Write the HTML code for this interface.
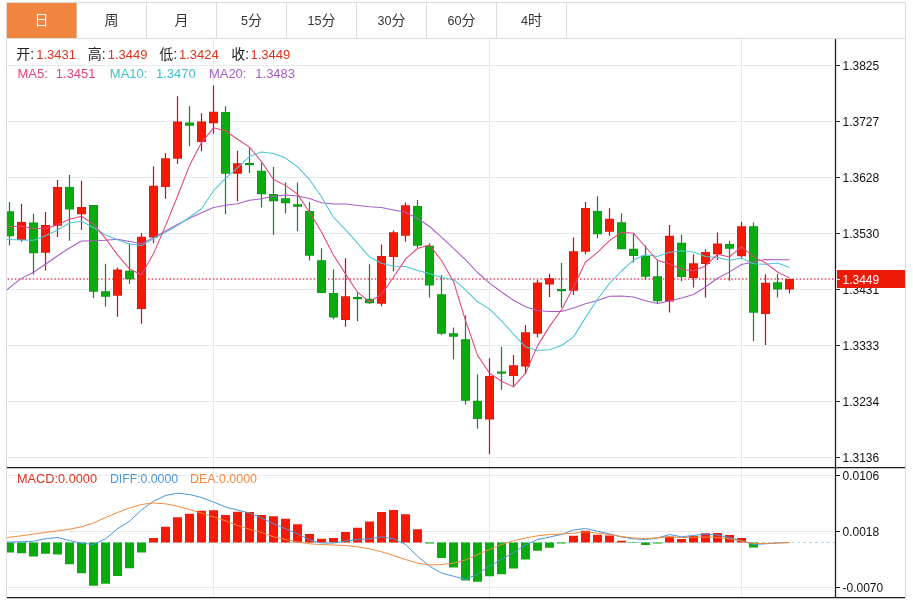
<!DOCTYPE html>
<html lang="zh"><head><meta charset="utf-8"><title>K线图</title>
<style>html,body{margin:0;padding:0;background:#fff}svg{display:block}text{font-family:"Liberation Sans","Noto Sans CJK SC",sans-serif}</style></head><body>
<svg width="913" height="600" viewBox="0 0 913 600">
<rect width="913" height="600" fill="#fff"/>
<g stroke="#dcdcdc" stroke-width="1" fill="none" shape-rendering="crispEdges">
<path d="M6.5 2.5H905.5V598"/>
<path d="M6.5 2.5V598"/>
<path d="M7 38.5H905"/>
<path d="M76.5 3V38"/>
<path d="M146.5 3V38"/>
<path d="M216.5 3V38"/>
<path d="M286.5 3V38"/>
<path d="M356.5 3V38"/>
<path d="M426.5 3V38"/>
<path d="M496.5 3V38"/>
<path d="M566.5 3V38"/>
</g>
<rect x="7" y="3" width="69.5" height="35" fill="#f0853f"/>
<text x="41.5" y="25" font-size="14" text-anchor="middle" fill="#fff"><tspan font-size="14">日</tspan></text>
<text x="111.5" y="25" font-size="14" text-anchor="middle" fill="#333"><tspan font-size="14">周</tspan></text>
<text x="181.5" y="25" font-size="14" text-anchor="middle" fill="#333"><tspan font-size="14">月</tspan></text>
<text x="251.5" y="25" font-size="14" text-anchor="middle" fill="#333"><tspan font-size="12.6">5</tspan><tspan font-size="14">分</tspan></text>
<text x="321.5" y="25" font-size="14" text-anchor="middle" fill="#333"><tspan font-size="12.6">15</tspan><tspan font-size="14">分</tspan></text>
<text x="391.5" y="25" font-size="14" text-anchor="middle" fill="#333"><tspan font-size="12.6">30</tspan><tspan font-size="14">分</tspan></text>
<text x="461.5" y="25" font-size="14" text-anchor="middle" fill="#333"><tspan font-size="12.6">60</tspan><tspan font-size="14">分</tspan></text>
<text x="531.5" y="25" font-size="14" text-anchor="middle" fill="#333"><tspan font-size="12.6">4</tspan><tspan font-size="14">时</tspan></text>
<g stroke="#e8e9ee" stroke-width="1" shape-rendering="crispEdges">
<path d="M7 65.5H835"/>
<path d="M7 121.5H835"/>
<path d="M7 177.5H835"/>
<path d="M7 233.5H835"/>
<path d="M7 289.5H835"/>
<path d="M7 345.5H835"/>
<path d="M7 401.5H835"/>
<path d="M7 457.5H835"/>
<path d="M7 475.5H835"/>
<path d="M7 531.5H835"/>
<path d="M7 587.5H835"/>
<path d="M213.5 39V597"/>
<path d="M489.5 39V597"/>
<path d="M741.5 39V597"/>
</g>
<path d="M7 542.5H835"  stroke="#a4d2ee" stroke-width="1.2" stroke-dasharray="2.5 3.4" fill="none"/>
<defs><clipPath id="cp"><rect x="7" y="39" width="828" height="558"/></clipPath></defs>
<g clip-path="url(#cp)">
<path d="M7.6 279H835" stroke="#ec4560" stroke-width="1.6" stroke-dasharray="1.5 2.1" fill="none"/>
<path d="M9.5 202.00V245.50" stroke="#1a8530" stroke-width="1.25"/>
<rect x="5.0" y="211.25" width="9" height="25.00" fill="#0c9a18"/>
<rect x="5.8" y="212.05" width="7.4" height="23.40" fill="#0aab0e"/>
<path d="M21.5 203.75V241.75" stroke="#bc1420" stroke-width="1.25"/>
<rect x="17.0" y="222.00" width="9" height="18.00" fill="#de1a0c"/>
<rect x="17.8" y="222.80" width="7.4" height="16.40" fill="#f41a08"/>
<path d="M33.5 213.75V274.50" stroke="#1a8530" stroke-width="1.25"/>
<rect x="29.0" y="222.50" width="9" height="30.75" fill="#0c9a18"/>
<rect x="29.8" y="223.30" width="7.4" height="29.15" fill="#0aab0e"/>
<path d="M45.5 212.00V270.50" stroke="#bc1420" stroke-width="1.25"/>
<rect x="41.0" y="225.00" width="9" height="27.75" fill="#de1a0c"/>
<rect x="41.8" y="225.80" width="7.4" height="26.15" fill="#f41a08"/>
<path d="M57.5 180.00V237.00" stroke="#bc1420" stroke-width="1.25"/>
<rect x="53.0" y="187.00" width="9" height="38.75" fill="#de1a0c"/>
<rect x="53.8" y="187.80" width="7.4" height="37.15" fill="#f41a08"/>
<path d="M69.5 175.00V240.75" stroke="#1a8530" stroke-width="1.25"/>
<rect x="65.0" y="187.00" width="9" height="22.50" fill="#0c9a18"/>
<rect x="65.8" y="187.80" width="7.4" height="20.90" fill="#0aab0e"/>
<path d="M81.5 180.75V230.00" stroke="#bc1420" stroke-width="1.25"/>
<rect x="77.0" y="207.00" width="9" height="7.25" fill="#de1a0c"/>
<rect x="77.8" y="207.80" width="7.4" height="5.65" fill="#f41a08"/>
<path d="M93.5 205.00V298.00" stroke="#1a8530" stroke-width="1.25"/>
<rect x="89.0" y="205.00" width="9" height="86.75" fill="#0c9a18"/>
<rect x="89.8" y="205.80" width="7.4" height="85.15" fill="#0aab0e"/>
<path d="M105.5 263.75V306.75" stroke="#1a8530" stroke-width="1.25"/>
<rect x="101.0" y="291.25" width="9" height="5.50" fill="#0c9a18"/>
<rect x="101.8" y="292.05" width="7.4" height="3.90" fill="#0aab0e"/>
<path d="M117.5 267.50V316.75" stroke="#bc1420" stroke-width="1.25"/>
<rect x="113.0" y="269.50" width="9" height="26.25" fill="#de1a0c"/>
<rect x="113.8" y="270.30" width="7.4" height="24.65" fill="#f41a08"/>
<path d="M129.5 243.75V283.75" stroke="#1a8530" stroke-width="1.25"/>
<rect x="125.0" y="270.75" width="9" height="8.50" fill="#0c9a18"/>
<rect x="125.8" y="271.55" width="7.4" height="6.90" fill="#0aab0e"/>
<path d="M141.5 233.00V323.75" stroke="#bc1420" stroke-width="1.25"/>
<rect x="137.0" y="236.75" width="9" height="72.25" fill="#de1a0c"/>
<rect x="137.8" y="237.55" width="7.4" height="70.65" fill="#f41a08"/>
<path d="M153.5 166.25V243.25" stroke="#bc1420" stroke-width="1.25"/>
<rect x="149.0" y="185.75" width="9" height="51.75" fill="#de1a0c"/>
<rect x="149.8" y="186.55" width="7.4" height="50.15" fill="#f41a08"/>
<path d="M165.5 153.00V198.75" stroke="#bc1420" stroke-width="1.25"/>
<rect x="161.0" y="158.25" width="9" height="28.75" fill="#de1a0c"/>
<rect x="161.8" y="159.05" width="7.4" height="27.15" fill="#f41a08"/>
<path d="M177.5 96.25V163.75" stroke="#bc1420" stroke-width="1.25"/>
<rect x="173.0" y="121.50" width="9" height="37.25" fill="#de1a0c"/>
<rect x="173.8" y="122.30" width="7.4" height="35.65" fill="#f41a08"/>
<path d="M189.5 106.25V146.25" stroke="#1a8530" stroke-width="1.25"/>
<rect x="185.0" y="122.50" width="9" height="3.25" fill="#0c9a18"/>
<rect x="185.8" y="123.30" width="7.4" height="1.65" fill="#0aab0e"/>
<path d="M201.5 113.25V151.25" stroke="#bc1420" stroke-width="1.25"/>
<rect x="197.0" y="121.50" width="9" height="20.50" fill="#de1a0c"/>
<rect x="197.8" y="122.30" width="7.4" height="18.90" fill="#f41a08"/>
<path d="M213.5 85.50V133.75" stroke="#bc1420" stroke-width="1.25"/>
<rect x="209.0" y="111.75" width="9" height="11.50" fill="#de1a0c"/>
<rect x="209.8" y="112.55" width="7.4" height="9.90" fill="#f41a08"/>
<path d="M225.5 106.25V214.25" stroke="#1a8530" stroke-width="1.25"/>
<rect x="221.0" y="112.00" width="9" height="61.75" fill="#0c9a18"/>
<rect x="221.8" y="112.80" width="7.4" height="60.15" fill="#0aab0e"/>
<path d="M237.5 150.75V201.25" stroke="#bc1420" stroke-width="1.25"/>
<rect x="233.0" y="163.25" width="9" height="10.50" fill="#de1a0c"/>
<rect x="233.8" y="164.05" width="7.4" height="8.90" fill="#f41a08"/>
<path d="M249.5 147.50V173.00" stroke="#1a8530" stroke-width="1.25"/>
<rect x="245.0" y="163.00" width="9" height="2.20" fill="#0c9a18"/>
<path d="M261.5 162.50V207.50" stroke="#1a8530" stroke-width="1.25"/>
<rect x="257.0" y="170.75" width="9" height="23.50" fill="#0c9a18"/>
<rect x="257.8" y="171.55" width="7.4" height="21.90" fill="#0aab0e"/>
<path d="M273.5 167.00V235.00" stroke="#1a8530" stroke-width="1.25"/>
<rect x="269.0" y="194.00" width="9" height="7.25" fill="#0c9a18"/>
<rect x="269.8" y="194.80" width="7.4" height="5.65" fill="#0aab0e"/>
<path d="M285.5 182.50V213.50" stroke="#1a8530" stroke-width="1.25"/>
<rect x="281.0" y="198.25" width="9" height="5.00" fill="#0c9a18"/>
<rect x="281.8" y="199.05" width="7.4" height="3.40" fill="#0aab0e"/>
<path d="M297.5 182.50V231.25" stroke="#1a8530" stroke-width="1.25"/>
<rect x="293.0" y="204.25" width="9" height="2.50" fill="#0c9a18"/>
<rect x="293.8" y="205.05" width="7.4" height="0.90" fill="#0aab0e"/>
<path d="M309.5 202.00V260.50" stroke="#1a8530" stroke-width="1.25"/>
<rect x="305.0" y="211.00" width="9" height="44.75" fill="#0c9a18"/>
<rect x="305.8" y="211.80" width="7.4" height="43.15" fill="#0aab0e"/>
<path d="M321.5 248.25V293.00" stroke="#1a8530" stroke-width="1.25"/>
<rect x="317.0" y="260.25" width="9" height="32.75" fill="#0c9a18"/>
<rect x="317.8" y="261.05" width="7.4" height="31.15" fill="#0aab0e"/>
<path d="M333.5 269.25V319.25" stroke="#1a8530" stroke-width="1.25"/>
<rect x="329.0" y="293.00" width="9" height="24.50" fill="#0c9a18"/>
<rect x="329.8" y="293.80" width="7.4" height="22.90" fill="#0aab0e"/>
<path d="M345.5 258.25V326.75" stroke="#bc1420" stroke-width="1.25"/>
<rect x="341.0" y="296.25" width="9" height="23.75" fill="#de1a0c"/>
<rect x="341.8" y="297.05" width="7.4" height="22.15" fill="#f41a08"/>
<path d="M357.5 292.00V321.25" stroke="#1a8530" stroke-width="1.25"/>
<rect x="353.0" y="297.00" width="9" height="2.20" fill="#0c9a18"/>
<path d="M369.5 264.25V304.00" stroke="#1a8530" stroke-width="1.25"/>
<rect x="365.0" y="298.75" width="9" height="4.50" fill="#0c9a18"/>
<rect x="365.8" y="299.55" width="7.4" height="2.90" fill="#0aab0e"/>
<path d="M381.5 244.50V306.25" stroke="#bc1420" stroke-width="1.25"/>
<rect x="377.0" y="256.00" width="9" height="47.75" fill="#de1a0c"/>
<rect x="377.8" y="256.80" width="7.4" height="46.15" fill="#f41a08"/>
<path d="M393.5 230.50V271.25" stroke="#bc1420" stroke-width="1.25"/>
<rect x="389.0" y="232.25" width="9" height="24.75" fill="#de1a0c"/>
<rect x="389.8" y="233.05" width="7.4" height="23.15" fill="#f41a08"/>
<path d="M405.5 202.50V241.75" stroke="#bc1420" stroke-width="1.25"/>
<rect x="401.0" y="205.25" width="9" height="30.50" fill="#de1a0c"/>
<rect x="401.8" y="206.05" width="7.4" height="28.90" fill="#f41a08"/>
<path d="M417.5 200.00V248.00" stroke="#1a8530" stroke-width="1.25"/>
<rect x="413.0" y="206.00" width="9" height="39.75" fill="#0c9a18"/>
<rect x="413.8" y="206.80" width="7.4" height="38.15" fill="#0aab0e"/>
<path d="M429.5 243.25V297.50" stroke="#1a8530" stroke-width="1.25"/>
<rect x="425.0" y="245.75" width="9" height="39.75" fill="#0c9a18"/>
<rect x="425.8" y="246.55" width="7.4" height="38.15" fill="#0aab0e"/>
<path d="M441.5 275.00V335.00" stroke="#1a8530" stroke-width="1.25"/>
<rect x="437.0" y="294.25" width="9" height="39.50" fill="#0c9a18"/>
<rect x="437.8" y="295.05" width="7.4" height="37.90" fill="#0aab0e"/>
<path d="M453.5 327.50V359.25" stroke="#1a8530" stroke-width="1.25"/>
<rect x="449.0" y="333.25" width="9" height="3.50" fill="#0c9a18"/>
<rect x="449.8" y="334.05" width="7.4" height="1.90" fill="#0aab0e"/>
<path d="M465.5 315.50V404.50" stroke="#1a8530" stroke-width="1.25"/>
<rect x="461.0" y="339.25" width="9" height="61.50" fill="#0c9a18"/>
<rect x="461.8" y="340.05" width="7.4" height="59.90" fill="#0aab0e"/>
<path d="M477.5 374.50V428.75" stroke="#1a8530" stroke-width="1.25"/>
<rect x="473.0" y="400.75" width="9" height="18.25" fill="#0c9a18"/>
<rect x="473.8" y="401.55" width="7.4" height="16.65" fill="#0aab0e"/>
<path d="M489.5 358.25V454.25" stroke="#bc1420" stroke-width="1.25"/>
<rect x="485.0" y="376.00" width="9" height="43.50" fill="#de1a0c"/>
<rect x="485.8" y="376.80" width="7.4" height="41.90" fill="#f41a08"/>
<path d="M501.5 346.75V390.00" stroke="#1a8530" stroke-width="1.25"/>
<rect x="497.0" y="371.50" width="9" height="2.20" fill="#0c9a18"/>
<path d="M513.5 355.00V386.25" stroke="#bc1420" stroke-width="1.25"/>
<rect x="509.0" y="365.25" width="9" height="10.75" fill="#de1a0c"/>
<rect x="509.8" y="366.05" width="7.4" height="9.15" fill="#f41a08"/>
<path d="M525.5 325.00V374.25" stroke="#bc1420" stroke-width="1.25"/>
<rect x="521.0" y="332.25" width="9" height="34.25" fill="#de1a0c"/>
<rect x="521.8" y="333.05" width="7.4" height="32.65" fill="#f41a08"/>
<path d="M537.5 280.00V337.50" stroke="#bc1420" stroke-width="1.25"/>
<rect x="533.0" y="282.50" width="9" height="51.25" fill="#de1a0c"/>
<rect x="533.8" y="283.30" width="7.4" height="49.65" fill="#f41a08"/>
<path d="M549.5 273.75V297.00" stroke="#bc1420" stroke-width="1.25"/>
<rect x="545.0" y="278.25" width="9" height="6.25" fill="#de1a0c"/>
<rect x="545.8" y="279.05" width="7.4" height="4.65" fill="#f41a08"/>
<path d="M561.5 263.00V307.50" stroke="#1a8530" stroke-width="1.25"/>
<rect x="557.0" y="289.00" width="9" height="2.20" fill="#0c9a18"/>
<path d="M573.5 237.50V295.00" stroke="#bc1420" stroke-width="1.25"/>
<rect x="569.0" y="251.25" width="9" height="39.50" fill="#de1a0c"/>
<rect x="569.8" y="252.05" width="7.4" height="37.90" fill="#f41a08"/>
<path d="M585.5 202.00V254.25" stroke="#bc1420" stroke-width="1.25"/>
<rect x="581.0" y="208.00" width="9" height="43.75" fill="#de1a0c"/>
<rect x="581.8" y="208.80" width="7.4" height="42.15" fill="#f41a08"/>
<path d="M597.5 196.25V238.25" stroke="#1a8530" stroke-width="1.25"/>
<rect x="593.0" y="211.00" width="9" height="23.25" fill="#0c9a18"/>
<rect x="593.8" y="211.80" width="7.4" height="21.65" fill="#0aab0e"/>
<path d="M609.5 208.25V235.75" stroke="#bc1420" stroke-width="1.25"/>
<rect x="605.0" y="218.75" width="9" height="13.00" fill="#de1a0c"/>
<rect x="605.8" y="219.55" width="7.4" height="11.40" fill="#f41a08"/>
<path d="M621.5 213.25V249.25" stroke="#1a8530" stroke-width="1.25"/>
<rect x="617.0" y="222.25" width="9" height="27.00" fill="#0c9a18"/>
<rect x="617.8" y="223.05" width="7.4" height="25.40" fill="#0aab0e"/>
<path d="M633.5 233.75V262.50" stroke="#1a8530" stroke-width="1.25"/>
<rect x="629.0" y="248.75" width="9" height="7.25" fill="#0c9a18"/>
<rect x="629.8" y="249.55" width="7.4" height="5.65" fill="#0aab0e"/>
<path d="M645.5 245.50V280.00" stroke="#1a8530" stroke-width="1.25"/>
<rect x="641.0" y="255.75" width="9" height="21.00" fill="#0c9a18"/>
<rect x="641.8" y="256.55" width="7.4" height="19.40" fill="#0aab0e"/>
<path d="M657.5 260.00V303.75" stroke="#1a8530" stroke-width="1.25"/>
<rect x="653.0" y="276.25" width="9" height="25.00" fill="#0c9a18"/>
<rect x="653.8" y="277.05" width="7.4" height="23.40" fill="#0aab0e"/>
<path d="M669.5 225.00V312.50" stroke="#bc1420" stroke-width="1.25"/>
<rect x="665.0" y="235.75" width="9" height="65.75" fill="#de1a0c"/>
<rect x="665.8" y="236.55" width="7.4" height="64.15" fill="#f41a08"/>
<path d="M681.5 234.50V281.25" stroke="#1a8530" stroke-width="1.25"/>
<rect x="677.0" y="242.75" width="9" height="34.25" fill="#0c9a18"/>
<rect x="677.8" y="243.55" width="7.4" height="32.65" fill="#0aab0e"/>
<path d="M693.5 254.25V287.50" stroke="#bc1420" stroke-width="1.25"/>
<rect x="689.0" y="263.25" width="9" height="14.75" fill="#de1a0c"/>
<rect x="689.8" y="264.05" width="7.4" height="13.15" fill="#f41a08"/>
<path d="M705.5 249.25V297.50" stroke="#bc1420" stroke-width="1.25"/>
<rect x="701.0" y="252.00" width="9" height="12.00" fill="#de1a0c"/>
<rect x="701.8" y="252.80" width="7.4" height="10.40" fill="#f41a08"/>
<path d="M717.5 232.50V260.00" stroke="#bc1420" stroke-width="1.25"/>
<rect x="713.0" y="243.50" width="9" height="10.75" fill="#de1a0c"/>
<rect x="713.8" y="244.30" width="7.4" height="9.15" fill="#f41a08"/>
<path d="M729.5 240.75V280.75" stroke="#1a8530" stroke-width="1.25"/>
<rect x="725.0" y="244.00" width="9" height="4.75" fill="#0c9a18"/>
<rect x="725.8" y="244.80" width="7.4" height="3.15" fill="#0aab0e"/>
<path d="M741.5 221.75V258.25" stroke="#bc1420" stroke-width="1.25"/>
<rect x="737.0" y="226.25" width="9" height="30.00" fill="#de1a0c"/>
<rect x="737.8" y="227.05" width="7.4" height="28.40" fill="#f41a08"/>
<path d="M753.5 222.50V341.25" stroke="#1a8530" stroke-width="1.25"/>
<rect x="749.0" y="226.25" width="9" height="86.50" fill="#0c9a18"/>
<rect x="749.8" y="227.05" width="7.4" height="84.90" fill="#0aab0e"/>
<path d="M765.5 274.25V345.00" stroke="#bc1420" stroke-width="1.25"/>
<rect x="761.0" y="282.75" width="9" height="31.25" fill="#de1a0c"/>
<rect x="761.8" y="283.55" width="7.4" height="29.65" fill="#f41a08"/>
<path d="M777.5 273.75V297.50" stroke="#1a8530" stroke-width="1.25"/>
<rect x="773.0" y="282.25" width="9" height="7.25" fill="#0c9a18"/>
<rect x="773.8" y="283.05" width="7.4" height="5.65" fill="#0aab0e"/>
<path d="M789.5 279.00V293.50" stroke="#bc1420" stroke-width="1.25"/>
<rect x="785.0" y="279.00" width="9" height="10.50" fill="#de1a0c"/>
<rect x="785.8" y="279.80" width="7.4" height="8.90" fill="#f41a08"/>
<polyline points="7.0,290.0 9.5,287.6 21.5,278.4 33.5,272.3 45.5,264.2 57.5,255.8 69.5,248.0 81.5,241.0 93.5,240.7 105.5,240.3 117.5,239.3 129.5,241.6 141.5,243.8 153.5,237.6 165.5,231.0 177.5,224.5 189.5,218.3 201.5,212.7 213.5,207.5 225.5,205.2 237.5,203.8 249.5,200.2 261.5,198.8 273.5,196.2 285.5,195.1 297.5,196.1 309.5,198.4 321.5,202.7 333.5,204.0 345.5,204.0 357.5,205.5 369.5,206.7 381.5,207.6 393.5,209.9 405.5,212.3 417.5,218.5 429.5,226.5 441.5,237.1 453.5,248.4 465.5,259.7 477.5,272.5 489.5,283.1 501.5,292.0 513.5,300.2 525.5,306.7 537.5,310.4 549.5,311.6 561.5,311.4 573.5,308.1 585.5,303.7 597.5,300.5 609.5,296.3 621.5,295.9 633.5,297.1 645.5,300.7 657.5,303.5 669.5,301.0 681.5,298.1 693.5,294.5 705.5,287.0 717.5,278.3 729.5,271.9 741.5,264.5 753.5,261.9 765.5,259.4 777.5,259.8 789.5,259.8" fill="none" stroke="#a85cc8" stroke-width="1.05" stroke-linejoin="round"/>
<polyline points="7.0,239.5 9.5,239.5 21.5,240.0 33.5,240.3 45.5,235.8 57.5,230.0 69.5,223.0 81.5,221.3 93.5,227.5 105.5,235.0 117.5,239.8 129.5,244.1 141.5,245.6 153.5,238.8 165.5,232.2 177.5,225.6 189.5,217.2 201.5,208.7 213.5,190.7 225.5,178.4 237.5,167.8 249.5,156.3 261.5,152.1 273.5,153.6 285.5,158.1 297.5,166.7 309.5,179.7 321.5,196.8 333.5,217.4 345.5,229.6 357.5,243.2 369.5,257.0 381.5,263.2 393.5,266.3 405.5,266.5 417.5,270.4 429.5,273.4 441.5,277.4 453.5,279.4 465.5,289.8 477.5,301.8 489.5,309.1 501.5,320.9 513.5,334.1 525.5,346.9 537.5,350.5 549.5,349.8 561.5,345.5 573.5,336.9 585.5,317.6 597.5,299.2 609.5,283.4 621.5,271.0 633.5,260.1 645.5,254.6 657.5,256.4 669.5,252.2 681.5,250.8 693.5,252.0 705.5,256.4 717.5,257.4 729.5,260.4 741.5,258.1 753.5,263.7 765.5,264.3 777.5,263.1 789.5,267.5" fill="none" stroke="#4cc6d6" stroke-width="1.05" stroke-linejoin="round"/>
<polyline points="7.0,226.7 9.5,226.7 21.5,226.3 33.5,228.3 45.5,228.7 57.5,224.7 69.5,219.3 81.5,216.3 93.5,224.1 105.5,238.4 117.5,254.9 129.5,268.9 141.5,274.8 153.5,253.6 165.5,225.9 177.5,196.3 189.5,165.6 201.5,142.6 213.5,127.8 225.5,130.8 237.5,139.2 249.5,147.1 261.5,161.6 273.5,179.5 285.5,185.4 297.5,194.1 309.5,212.2 321.5,232.0 333.5,255.2 345.5,273.9 357.5,292.2 369.5,301.8 381.5,294.4 393.5,277.3 405.5,259.1 417.5,248.5 429.5,244.9 441.5,260.5 453.5,281.4 465.5,320.5 477.5,355.1 489.5,373.2 501.5,381.2 513.5,386.9 525.5,373.2 537.5,345.9 549.5,326.4 561.5,309.8 573.5,286.9 585.5,262.1 597.5,252.4 609.5,240.6 621.5,232.3 633.5,233.2 645.5,247.0 657.5,260.4 669.5,263.8 681.5,269.4 693.5,270.8 705.5,265.9 717.5,254.3 729.5,256.9 741.5,246.8 753.5,256.6 765.5,262.8 777.5,272.0 789.5,278.1" fill="none" stroke="#e2467c" stroke-width="1.05" stroke-linejoin="round"/>
<rect x="5.0" y="542.50" width="9" height="10.00" fill="#0aab0e"/>
<rect x="17.0" y="542.50" width="9" height="10.75" fill="#0aab0e"/>
<rect x="29.0" y="542.50" width="9" height="14.00" fill="#0aab0e"/>
<rect x="41.0" y="542.50" width="9" height="11.25" fill="#0aab0e"/>
<rect x="53.0" y="542.50" width="9" height="12.00" fill="#0aab0e"/>
<rect x="65.0" y="542.50" width="9" height="21.75" fill="#0aab0e"/>
<rect x="77.0" y="542.50" width="9" height="30.75" fill="#0aab0e"/>
<rect x="89.0" y="542.50" width="9" height="43.25" fill="#0aab0e"/>
<rect x="101.0" y="542.50" width="9" height="41.25" fill="#0aab0e"/>
<rect x="113.0" y="542.50" width="9" height="33.50" fill="#0aab0e"/>
<rect x="125.0" y="542.50" width="9" height="25.75" fill="#0aab0e"/>
<rect x="137.0" y="542.50" width="9" height="10.00" fill="#0aab0e"/>
<rect x="149.0" y="538.00" width="9" height="4.50" fill="#f41a08"/>
<rect x="161.0" y="526.75" width="9" height="15.75" fill="#f41a08"/>
<rect x="173.0" y="517.25" width="9" height="25.25" fill="#f41a08"/>
<rect x="185.0" y="513.75" width="9" height="28.75" fill="#f41a08"/>
<rect x="197.0" y="510.75" width="9" height="31.75" fill="#f41a08"/>
<rect x="209.0" y="510.25" width="9" height="32.25" fill="#f41a08"/>
<rect x="221.0" y="515.00" width="9" height="27.50" fill="#f41a08"/>
<rect x="233.0" y="511.75" width="9" height="30.75" fill="#f41a08"/>
<rect x="245.0" y="512.00" width="9" height="30.50" fill="#f41a08"/>
<rect x="257.0" y="515.00" width="9" height="27.50" fill="#f41a08"/>
<rect x="269.0" y="516.25" width="9" height="26.25" fill="#f41a08"/>
<rect x="281.0" y="518.75" width="9" height="23.75" fill="#f41a08"/>
<rect x="293.0" y="524.25" width="9" height="18.25" fill="#f41a08"/>
<rect x="305.0" y="534.00" width="9" height="8.50" fill="#f41a08"/>
<rect x="317.0" y="538.75" width="9" height="3.75" fill="#f41a08"/>
<rect x="329.0" y="538.00" width="9" height="4.50" fill="#f41a08"/>
<rect x="341.0" y="532.00" width="9" height="10.50" fill="#f41a08"/>
<rect x="353.0" y="527.75" width="9" height="14.75" fill="#f41a08"/>
<rect x="365.0" y="521.50" width="9" height="21.00" fill="#f41a08"/>
<rect x="377.0" y="512.00" width="9" height="30.50" fill="#f41a08"/>
<rect x="389.0" y="510.00" width="9" height="32.50" fill="#f41a08"/>
<rect x="401.0" y="514.25" width="9" height="28.25" fill="#f41a08"/>
<rect x="413.0" y="529.25" width="9" height="13.25" fill="#f41a08"/>
<rect x="425.0" y="542.50" width="9" height="1.00" fill="#0aab0e"/>
<rect x="437.0" y="542.50" width="9" height="15.50" fill="#0aab0e"/>
<rect x="449.0" y="542.50" width="9" height="25.00" fill="#0aab0e"/>
<rect x="461.0" y="542.50" width="9" height="38.00" fill="#0aab0e"/>
<rect x="473.0" y="542.50" width="9" height="39.25" fill="#0aab0e"/>
<rect x="485.0" y="542.50" width="9" height="33.75" fill="#0aab0e"/>
<rect x="497.0" y="542.50" width="9" height="31.75" fill="#0aab0e"/>
<rect x="509.0" y="542.50" width="9" height="26.00" fill="#0aab0e"/>
<rect x="521.0" y="542.50" width="9" height="17.00" fill="#0aab0e"/>
<rect x="533.0" y="542.50" width="9" height="8.25" fill="#0aab0e"/>
<rect x="545.0" y="542.50" width="9" height="5.25" fill="#0aab0e"/>
<rect x="557.0" y="542.50" width="9" height="1.00" fill="#0aab0e"/>
<rect x="569.0" y="535.75" width="9" height="6.75" fill="#f41a08"/>
<rect x="581.0" y="530.75" width="9" height="11.75" fill="#f41a08"/>
<rect x="593.0" y="534.75" width="9" height="7.75" fill="#f41a08"/>
<rect x="605.0" y="535.50" width="9" height="7.00" fill="#f41a08"/>
<rect x="617.0" y="540.75" width="9" height="1.75" fill="#f41a08"/>
<rect x="629.0" y="542.50" width="9" height="0.50" fill="#0aab0e"/>
<rect x="641.0" y="542.50" width="9" height="2.50" fill="#0aab0e"/>
<rect x="653.0" y="542.50" width="9" height="1.00" fill="#0aab0e"/>
<rect x="665.0" y="536.50" width="9" height="6.00" fill="#f41a08"/>
<rect x="677.0" y="539.00" width="9" height="3.50" fill="#f41a08"/>
<rect x="689.0" y="536.00" width="9" height="6.50" fill="#f41a08"/>
<rect x="701.0" y="533.25" width="9" height="9.25" fill="#f41a08"/>
<rect x="713.0" y="533.00" width="9" height="9.50" fill="#f41a08"/>
<rect x="725.0" y="535.00" width="9" height="7.50" fill="#f41a08"/>
<rect x="737.0" y="538.00" width="9" height="4.50" fill="#f41a08"/>
<rect x="749.0" y="542.50" width="9" height="5.00" fill="#0aab0e"/>
<polyline points="7.0,542.0 9.5,542.0 21.5,541.8 33.5,541.2 45.5,538.8 57.5,537.5 69.5,540.5 81.5,543.2 93.5,544.5 105.5,538.8 117.5,528.8 129.5,521.2 141.5,510.0 153.5,501.2 165.5,495.5 177.5,493.2 189.5,494.5 201.5,497.5 213.5,502.0 225.5,507.0 237.5,510.0 249.5,513.0 261.5,518.0 273.5,523.8 285.5,528.8 297.5,533.8 309.5,540.0 321.5,543.0 333.5,543.0 345.5,541.0 357.5,539.5 369.5,538.8 381.5,536.8 393.5,538.8 405.5,544.5 417.5,556.2 429.5,566.2 441.5,573.0 453.5,576.2 465.5,579.5 477.5,574.2 489.5,566.2 501.5,559.5 513.5,552.5 525.5,545.0 537.5,539.5 549.5,537.0 561.5,534.5 573.5,530.0 585.5,528.5 597.5,531.2 609.5,533.8 621.5,537.0 633.5,538.8 645.5,539.5 657.5,538.0 669.5,534.5 681.5,536.8 693.5,535.5 705.5,534.0 717.5,535.0 729.5,537.5 741.5,540.8 753.5,544.5 765.5,543.8 777.5,543.0 789.5,542.5" fill="none" stroke="#4a96dc" stroke-width="1.0" stroke-linejoin="round"/>
<polyline points="7.0,537.5 9.5,537.2 21.5,535.8 33.5,534.0 45.5,532.5 57.5,530.8 69.5,529.2 81.5,526.8 93.5,523.0 105.5,517.5 117.5,512.5 129.5,508.0 141.5,504.5 153.5,503.0 165.5,503.8 177.5,506.2 189.5,509.5 201.5,513.0 213.5,517.0 225.5,520.8 237.5,525.5 249.5,529.2 261.5,532.5 273.5,536.8 285.5,539.5 297.5,541.8 309.5,543.8 321.5,544.5 333.5,545.0 345.5,545.5 357.5,546.8 369.5,548.8 381.5,551.8 393.5,555.5 405.5,559.5 417.5,563.2 429.5,565.0 441.5,564.5 453.5,563.2 465.5,560.0 477.5,554.5 489.5,549.5 501.5,544.5 513.5,540.8 525.5,538.0 537.5,535.8 549.5,534.5 561.5,534.0 573.5,533.2 585.5,532.0 597.5,533.0 609.5,534.5 621.5,536.5 633.5,538.0 645.5,538.5 657.5,537.8 669.5,537.0 681.5,537.5 693.5,537.2 705.5,537.0 717.5,537.5 729.5,538.8 741.5,541.2 753.5,543.5 765.5,543.5 777.5,543.0 789.5,542.5" fill="none" stroke="#f08a3c" stroke-width="1.0" stroke-linejoin="round"/>
</g>
<g stroke="#1a1a1a" stroke-width="1.25" fill="none">
<path d="M835.5 39V598"/>
<path d="M7 467.5H905"/>
<path d="M7 597.5H905"/>
</g>
<g stroke="#222" stroke-width="1.2" shape-rendering="crispEdges">
<path d="M836 65.5H840"/>
<path d="M836 121.5H840"/>
<path d="M836 177.5H840"/>
<path d="M836 233.5H840"/>
<path d="M836 289.5H840"/>
<path d="M836 345.5H840"/>
<path d="M836 401.5H840"/>
<path d="M836 457.5H840"/>
<path d="M836 475.5H840"/>
<path d="M836 531.5H840"/>
<path d="M836 587.5H840"/>
</g>
<text x="842.5" y="69.7" font-size="12" fill="#111">1.3825</text>
<text x="842.5" y="125.7" font-size="12" fill="#111">1.3727</text>
<text x="842.5" y="181.7" font-size="12" fill="#111">1.3628</text>
<text x="842.5" y="237.7" font-size="12" fill="#111">1.3530</text>
<text x="842.5" y="293.7" font-size="12" fill="#111">1.3431</text>
<text x="842.5" y="349.7" font-size="12" fill="#111">1.3333</text>
<text x="842.5" y="405.7" font-size="12" fill="#111">1.3234</text>
<text x="842.5" y="461.7" font-size="12" fill="#111">1.3136</text>
<text x="842.5" y="479.7" font-size="12" fill="#111">0.0106</text>
<text x="842.5" y="535.7" font-size="12" fill="#111">0.0018</text>
<text x="842.5" y="591.7" font-size="12" fill="#111">-0.0070</text>
<rect x="837" y="270" width="68" height="18" fill="#ee1a08"/>
<path d="M836 279.5H840" stroke="#fff" stroke-width="1"/>
<text x="842.5" y="283.7" font-size="12" fill="#fff">1.3449</text>
<text x="16.3" y="58.9" font-size="14" fill="#222">开:</text>
<text x="36.2" y="58.9" font-size="13" fill="#e2311d">1.3431</text>
<text x="87.8" y="58.9" font-size="14" fill="#222">高:</text>
<text x="107.7" y="58.9" font-size="13" fill="#e2311d">1.3449</text>
<text x="159.3" y="58.9" font-size="14" fill="#222">低:</text>
<text x="179" y="58.9" font-size="13" fill="#e2311d">1.3424</text>
<text x="231.2" y="58.9" font-size="14" fill="#222">收:</text>
<text x="250.5" y="58.9" font-size="13" fill="#e2311d">1.3449</text>
<text x="17.5" y="77.5" font-size="13" fill="#e2467c">MA5:</text>
<text x="55.8" y="77.5" font-size="13" fill="#e2467c">1.3451</text>
<text x="109.8" y="77.5" font-size="13" fill="#3fc0d0">MA10:</text>
<text x="155.9" y="77.5" font-size="13" fill="#3fc0d0">1.3470</text>
<text x="208.9" y="77.5" font-size="13" fill="#a85cc8">MA20:</text>
<text x="255.3" y="77.5" font-size="13" fill="#a85cc8">1.3483</text>
<text x="17" y="483" font-size="13" fill="#e2311d" textLength="80" lengthAdjust="spacingAndGlyphs">MACD:0.0000</text>
<text x="110" y="483" font-size="13" fill="#4a96dc" textLength="68" lengthAdjust="spacingAndGlyphs">DIFF:0.0000</text>
<text x="190" y="483" font-size="13" fill="#f08a3c" textLength="67" lengthAdjust="spacingAndGlyphs">DEA:0.0000</text>
</svg></body></html>
